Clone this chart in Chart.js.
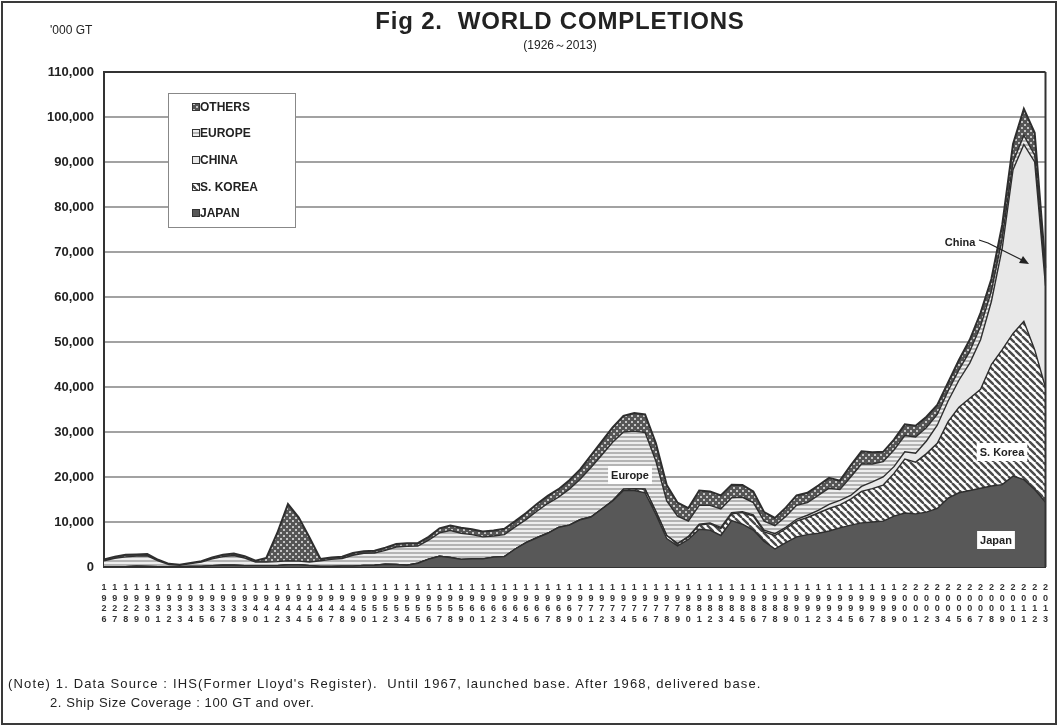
<!DOCTYPE html>
<html>
<head>
<meta charset="utf-8">
<script src="https://cdn.jsdelivr.net/npm/chart.js@4.4.0/dist/chart.umd.min.js"></script>
<style>
body { margin: 0; background: #fff; overflow: hidden; }
#wrap { position: relative; width: 1058px; height: 726px; overflow: hidden; font-family: "Liberation Sans", Arial, sans-serif; color: #222; }
#frame { position: absolute; left: 1px; top: 1px; width: 1052px; height: 720px; border: 2px solid #3a3a3a; }
canvas { position: absolute; left: 0; top: 0; }
.t { position: absolute; white-space: pre; }
</style>
</head>
<body>
<div id="wrap">
  <canvas id="chart" width="1063" height="726"></canvas>
  <div id="frame"></div>
  <div class="t" style="left:300px;width:520px;top:7px;text-align:center;font-weight:bold;font-size:24px;letter-spacing:0.8px;">Fig 2.  WORLD COMPLETIONS</div>
  <div class="t" style="left:460px;width:200px;top:37px;text-align:center;font-size:12px;">(1926～2013)</div>
  <div class="t" style="left:50px;top:23px;font-size:12px;">'000 GT</div>
  <div class="t" style="left:8px;top:676px;font-size:13px;letter-spacing:1.15px;">(Note) 1. Data Source : IHS(Former Lloyd's Register).  Until 1967, launched base. After 1968, delivered base.</div>
  <div class="t" style="left:50px;top:695px;font-size:13px;letter-spacing:0.6px;">2. Ship Size Coverage : 100 GT and over.</div>
</div>
<script>
/* data, '000 GT */
var years = [1926,1927,1928,1929,1930,1931,1932,1933,1934,1935,
  1936,1937,1938,1939,1940,1941,1942,1943,1944,1945,
  1946,1947,1948,1949,1950,1951,1952,1953,1954,1955,
  1956,1957,1958,1959,1960,1961,1962,1963,1964,1965,
  1966,1967,1968,1969,1970,1971,1972,1973,1974,1975,
  1976,1977,1978,1979,1980,1981,1982,1983,1984,1985,
  1986,1987,1988,1989,1990,1991,1992,1993,1994,1995,
  1996,1997,1998,1999,2000,2001,2002,2003,2004,2005,
  2006,2007,2008,2009,2010,2011,2012,2013];

var japan = [50,50,60,160,150,90,50,60,150,150,
  300,400,400,300,300,300,300,500,500,300,
  100,100,200,200,350,400,600,550,400,830,
  1750,2400,2100,1700,1800,1800,2200,2300,4000,5400,
  6500,7500,8800,9300,10500,11100,12900,14700,17000,17000,
  16500,11700,6300,4700,6100,8400,8200,7000,10300,9500,
  8200,5700,4000,5400,6700,7200,7500,8000,8700,9300,
  9800,10000,10200,11300,12000,11800,12200,13000,15300,16500,
  17000,17500,18000,18300,20200,19400,17200,14400];

var korea = [0,0,0,0,0,0,0,0,0,0,
  0,0,0,0,0,0,0,0,0,0,
  0,0,0,0,0,0,0,0,0,0,
  0,0,0,0,0,0,0,0,0,0,
  0,0,0,0,0,0,0,0,300,400,
  800,600,700,500,500,900,1400,1500,1500,2600,
  3100,2100,3000,3100,3500,3800,4500,5000,5100,5800,
  7000,7400,8000,9500,12000,11500,13000,14500,17000,19000,
  20500,22000,27000,30000,31700,35200,31100,25500];

var china = [0,0,0,0,0,0,0,0,0,0,
  0,0,0,0,0,0,0,0,0,0,
  0,0,0,0,0,0,0,0,0,0,
  0,0,0,0,0,0,0,0,0,0,
  0,0,0,0,0,0,0,0,0,0,
  0,0,0,0,200,200,200,300,300,200,
  300,400,400,300,400,500,600,900,1000,800,
  1100,1500,1800,1500,1600,2000,2800,4000,4600,6000,
  7800,11000,14000,22500,36400,39300,41700,22600];

var europe = [1350,1900,2200,2250,2350,1250,500,330,600,950,
  1500,1900,2150,1700,800,800,900,900,800,800,
  1300,1600,1700,2400,2700,2700,3100,3900,4200,3800,
  4200,5200,6000,5800,5400,4900,4700,4900,4900,5100,
  5900,6600,6700,8000,9000,11000,12000,13000,12700,12800,
  12600,11200,7700,6100,3400,4200,3900,4100,3300,3200,
  2700,2000,1800,2400,3100,2800,3300,3600,2400,4100,
  5000,4000,3400,3700,3600,3600,3000,2400,2200,2300,
  2600,3000,2300,2200,1700,2000,1500,1200];

var others = [300,350,440,390,400,260,150,110,150,200,
  300,400,450,400,300,900,6300,12600,9700,5400,
  400,400,400,500,450,500,600,650,700,670,
  750,1000,1100,1200,1200,1200,1200,1300,1300,1500,
  1600,1700,1800,2000,2200,2700,3000,3300,3600,4000,
  4000,4000,3500,3000,2900,3300,3100,3000,2900,2700,
  2500,2000,1700,2000,2200,2200,2200,2300,2000,2600,
  2800,2600,2200,2300,2500,2500,2400,2100,1900,2200,
  2600,3000,2700,3000,4000,5900,5000,2800];

var yTicks = [0,10000,20000,30000,40000,50000,60000,70000,80000,90000,100000,110000];

/* fill patterns */
function makePattern(w, h, draw) {
  var c = document.createElement('canvas');
  c.width = w; c.height = h;
  var g = c.getContext('2d');
  draw(g, w, h);
  return g.createPattern(c, 'repeat');
}
var fillJapan = '#585858';
var fillKorea = makePattern(7, 7, function (g, w, h) {
  g.fillStyle = '#ffffff'; g.fillRect(0, 0, w, h);
  g.strokeStyle = '#4a4a4a'; g.lineWidth = 2.4;
  for (var k = -1; k <= 1; k++) {
    g.beginPath(); g.moveTo(k * w, 0); g.lineTo(k * w + w, h); g.stroke();
  }
});
var fillChina = '#e8e8e8';
var fillEurope = makePattern(4, 4, function (g, w, h) {
  g.fillStyle = '#eeeeee'; g.fillRect(0, 0, w, h);
  g.fillStyle = '#b4b4b4'; g.fillRect(0, 0, w, 2);
});
var fillOthers = makePattern(6, 6, function (g, w, h) {
  g.fillStyle = '#555555'; g.fillRect(0, 0, w, h);
  g.fillStyle = '#c4c4c4';
  g.fillRect(1, 1, 2, 2); g.fillRect(4, 4, 2, 2);
});

var series = [
  { label: 'JAPAN', data: japan, bg: fillJapan, fill: 'origin' },
  { label: 'S. KOREA', data: korea, bg: fillKorea, fill: '-1' },
  { label: 'CHINA', data: china, bg: fillChina, fill: '-1' },
  { label: 'EUROPE', data: europe, bg: fillEurope, fill: '-1' },
  { label: 'OTHERS', data: others, bg: fillOthers, fill: '-1' }
];

var overlay = {
  id: 'overlay',
  afterDatasetsDraw: function (chart) {
    var ctx = chart.ctx, a = chart.chartArea;
    ctx.save();
    // right frame of plot
    ctx.strokeStyle = '#333'; ctx.lineWidth = 2;
    ctx.beginPath(); ctx.moveTo(a.right, a.top); ctx.lineTo(a.right, a.bottom); ctx.stroke();

    // legend box
    ctx.fillStyle = '#fff'; ctx.fillRect(168, 93, 127, 134);
    ctx.strokeStyle = '#888'; ctx.lineWidth = 1;
    ctx.strokeRect(168.5, 93.5, 127, 134);
    ctx.font = 'bold 12px "Liberation Sans", Arial, sans-serif';
    ctx.textBaseline = 'middle';
    var legendY = [107, 133, 160, 187, 213];
    for (var i = 0; i < 5; i++) {
      var s = series[4 - i];
      ctx.fillStyle = s.bg; ctx.fillRect(192, legendY[i] - 4, 8, 8);
      ctx.strokeStyle = '#333'; ctx.strokeRect(192.5, legendY[i] - 3.5, 7, 7);
      ctx.fillStyle = '#222';
      ctx.fillText(s.label, 200, legendY[i] + 1);
    }

    // in-chart labels
    function tag(text, cx, cy) {
      ctx.font = 'bold 11px "Liberation Sans", Arial, sans-serif';
      var w = ctx.measureText(text).width + 6;
      ctx.fillStyle = '#fff'; ctx.fillRect(cx - w / 2, cy - 9, w, 18);
      ctx.fillStyle = '#222'; ctx.textAlign = 'center';
      ctx.fillText(text, cx, cy + 1);
      ctx.textAlign = 'left';
    }
    tag('Europe', 630, 475);
    tag('China', 960, 242);
    tag('S. Korea', 1002, 452);
    tag('Japan', 996, 540);

    // China arrow
    ctx.strokeStyle = '#222'; ctx.lineWidth = 1.3;
    ctx.beginPath(); ctx.moveTo(979, 240); ctx.lineTo(988, 243); ctx.lineTo(1024, 261); ctx.stroke();
    ctx.fillStyle = '#222';
    ctx.beginPath(); ctx.moveTo(1029, 264); ctx.lineTo(1019, 263); ctx.lineTo(1023, 256); ctx.closePath(); ctx.fill();
    ctx.restore();
  }
};

new Chart(document.getElementById('chart'), {
  type: 'line',
  data: {
    labels: years.map(function (y) { return String(y).split(''); }),
    datasets: series.map(function (s, i) {
      return {
        label: s.label,
        data: s.data,
        backgroundColor: s.bg,
        borderColor: '#2e2e2e',
        borderWidth: i === 4 ? 2 : 1.4,
        fill: s.fill,
        pointRadius: 0,
        tension: 0
      };
    })
  },
  options: {
    responsive: false,
    animation: false,
    layout: { autoPadding: false, padding: { left: 0, top: 72, right: 12, bottom: 99 } },
    plugins: { legend: { display: false }, tooltip: { enabled: false } },
    scales: {
      x: {
        offset: false,
        grid: { display: false, drawTicks: false },
        border: { color: '#333', width: 2 },
        ticks: {
          autoSkip: false, maxRotation: 0, minRotation: 0, padding: 15,
          color: '#333',
          font: { family: '"Liberation Sans", Arial, sans-serif', size: 9, weight: 'bold', lineHeight: 1.2 }
        },
        afterFit: function (s) { s.height = 60; }
      },
      y: {
        stacked: true,
        min: 0, max: 110000,
        afterBuildTicks: function (s) { s.ticks = yTicks.map(function (v) { return { value: v }; }); },
        grid: {
          drawTicks: false,
          color: function (c) { return c.tick && c.tick.value === 110000 ? '#333' : '#a2a2a2'; },
          lineWidth: 2
        },
        border: { color: '#333', width: 2 },
        ticks: {
          padding: 10, color: '#222',
          font: { family: '"Liberation Sans", Arial, sans-serif', size: 13, weight: 'bold' },
          callback: function (v) { return v.toLocaleString('en-US'); }
        },
        afterFit: function (s) { s.width = 104; }
      }
    }
  },
  plugins: [overlay]
});
</script>
</body>
</html>
